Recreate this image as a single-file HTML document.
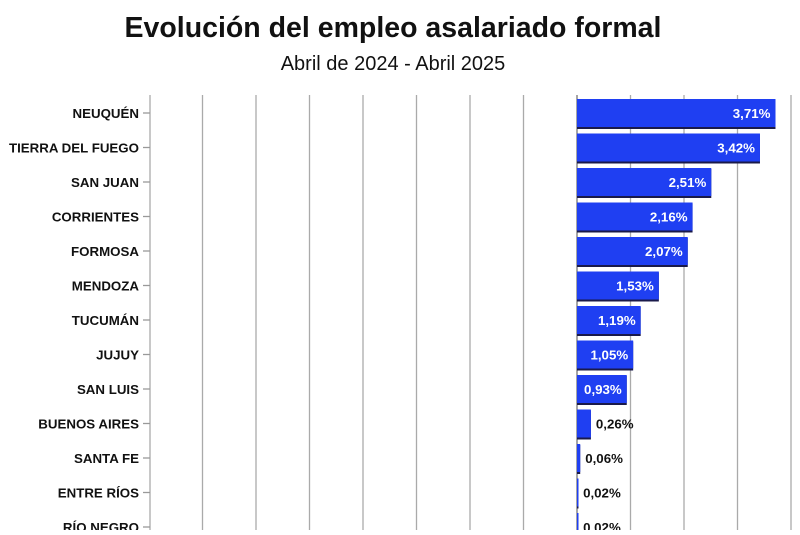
<!DOCTYPE html>
<html><head><meta charset="utf-8"><style>
body{margin:0;background:#fff;width:800px;height:530px;overflow:hidden;font-family:"Liberation Sans",sans-serif}
</style></head><body>
<svg width="800" height="530">
<text x="393" y="37" text-anchor="middle" font-size="28.5" font-weight="bold" fill="#111">Evolución del empleo asalariado formal</text>
<text x="393" y="70" text-anchor="middle" font-size="20" fill="#111">Abril de 2024 - Abril 2025</text>
<g id="grid"></g><g id="bars"></g>
</svg>
<script>
const categories=["NEUQUÉN","TIERRA DEL FUEGO","SAN JUAN","CORRIENTES","FORMOSA","MENDOZA","TUCUMÁN","JUJUY","SAN LUIS","BUENOS AIRES","SANTA FE","ENTRE RÍOS","RÍO NEGRO"];
const values=[3.71,3.42,2.51,2.16,2.07,1.53,1.19,1.05,0.93,0.26,0.06,0.02,0.02];
const labels=["3,71%","3,42%","2,51%","2,16%","2,07%","1,53%","1,19%","1,05%","0,93%","0,26%","0,06%","0,02%","0,02%"];
const gridTicks=[-7,-6,-5,-4,-3,-2,-1,0,1,2,3,4];
const NS="http://www.w3.org/2000/svg";
const x=v=>577+v*53.5;
const y=i=>113+i*34.5;
const grid=document.getElementById('grid'),bars=document.getElementById('bars');
function mk(tag,a,p){const e=document.createElementNS(NS,tag);for(const k in a)e.setAttribute(k,a[k]);p.appendChild(e);return e;}
gridTicks.forEach(t=>{
 const l=mk('line',{x1:x(t),x2:x(t),y1:95,y2:530,stroke:t===0?'#777':'#aaa','stroke-width':1.3},grid);
 
 
});
const ax=mk('line',{x1:150,x2:150,y1:95,y2:530,stroke:'#aaa','stroke-width':1.3},grid);


categories.forEach((c,i)=>{
 const cy=y(i);
 const tk=mk('line',{x1:143,x2:150,y1:cy,y2:cy,stroke:'#999','stroke-width':1.3},grid);
 
 
 const t=mk('text',{x:139,y:cy+5,'text-anchor':'end','font-size':13.3,'font-weight':'bold',fill:'#111'},bars);
 t.textContent=c;
 
 
 const w=x(values[i])-x(0);
 const sh=mk('rect',{x:x(0),y:cy-13,width:Math.max(w,1.5),height:29,fill:'#1a1a4a'},bars);
 
 
 const b=mk('rect',{x:x(0),y:cy-14,width:Math.max(w,1.5),height:28,fill:'#1f3ff2'},bars);
 
 
 const inside=values[i]>0.5;
 const lt=mk('text',{x:inside?x(values[i])-5:x(values[i])+5,y:cy+5,'text-anchor':inside?'end':'start','font-size':13.3,'font-weight':'bold',fill:inside?'#fff':'#111'},bars);
 lt.textContent=labels[i];
 
 
});
</script>
</body></html>
